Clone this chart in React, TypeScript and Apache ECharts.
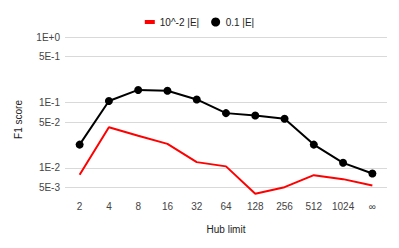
import React, { useEffect, useRef } from "react";
import * as echarts from "echarts";

const categories = ["2", "4", "8", "16", "32", "64", "128", "256", "512", "1024", "∞"];
const redName = "10^-2 |E|";
const blackName = "0.1 |E|";
const redValues = [0.0078, 0.0417, 0.0308, 0.0232, 0.0122, 0.0105, 0.0040, 0.00505, 0.0077, 0.0067, 0.00534];
const blackValues = [0.0226, 0.105, 0.155, 0.151, 0.111, 0.0685, 0.063, 0.0561, 0.0226, 0.0119, 0.00817];
const tickValues = [1, 0.5, 0.1, 0.05, 0.01, 0.005];
const tickLabels = ["1E+0", "5E-1", "1E-1", "5E-2", "1E-2", "5E-3"];

const FONT = "Liberation Sans, Arial, sans-serif";

export default function App() {
  const ref = useRef<HTMLDivElement>(null);
  useEffect(() => {
    if (!ref.current) return;
    const chart = echarts.init(ref.current, undefined, { renderer: "svg" });
    chart.setOption({
      animation: false,
      backgroundColor: "#ffffff",
      textStyle: { fontFamily: FONT },
      legend: {
        top: 12,
        left: "center",
        itemGap: 12,
        itemWidth: 10,
        itemHeight: 9,
        textStyle: { fontSize: 10, color: "#222", fontFamily: FONT },
        data: [
          { name: redName, icon: "path://M0,0M10,9M0,2.5H10V6.5H0Z" },
          { name: blackName, icon: "circle" },
        ],
      },
      grid: { left: 65, right: 12, top: 37, bottom: 52 },
      xAxis: {
        type: "category",
        data: categories,
        boundaryGap: true,
        axisLine: { show: false },
        axisTick: { show: false },
        axisLabel: { color: "#444", fontSize: 10, margin: 5, fontFamily: FONT },
        name: "Hub limit",
        nameLocation: "middle",
        nameGap: 28,
        nameTextStyle: { color: "#222", fontSize: 10, fontFamily: FONT },
      },
      yAxis: {
        type: "log",
        logBase: 10,
        min: 0.0037,
        max: 1,
        axisLine: { show: false },
        axisTick: { show: false, customValues: tickValues },
        axisLabel: {
          show: true,
          customValues: tickValues,
          color: "#444",
          fontSize: 10,
          margin: 5,
          fontFamily: FONT,
          formatter: (v: number) => {
            const i = tickValues.findIndex((t) => Math.abs(t - v) / t < 1e-6);
            return i >= 0 ? tickLabels[i] : "";
          },
        },
        splitLine: { show: true, lineStyle: { color: "#d9d9d9", width: 1 } },
        name: "F1 score",
        nameLocation: "middle",
        nameGap: 42,
        nameTextStyle: { color: "#222", fontSize: 10, fontFamily: FONT, padding: [0, 6, 0, 0] },
      },
      series: [
        {
          type: "line",
          name: redName,
          data: redValues,
          z: 3,
          symbol: "none",
          showSymbol: false,
          itemStyle: { color: "#ff0000" },
          lineStyle: { color: "#ff0000", width: 2 },
        },
        {
          type: "line",
          name: blackName,
          data: blackValues,
          z: 4,
          symbol: "circle",
          symbolSize: 8,
          itemStyle: { color: "#000000" },
          lineStyle: { color: "#000000", width: 2 },
        },
      ],
    });
    return () => chart.dispose();
  }, []);
  return (
    <div
      ref={ref}
      style={{ position: "fixed", left: 0, top: 0, width: 399, height: 248 }}
    />
  );
}
